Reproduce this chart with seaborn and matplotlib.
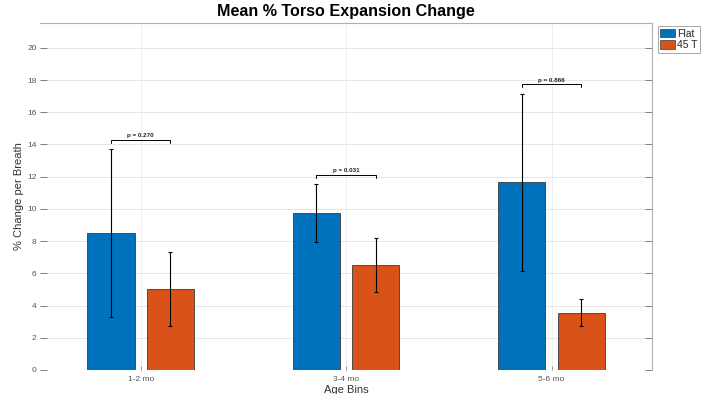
import matplotlib
matplotlib.use("Agg")
import matplotlib.pyplot as plt
import seaborn as sns
import pandas as pd
import numpy as np

age_bins = ["1-2 mo", "3-4 mo", "5-6 mo"]
conditions = ["Flat", "45 T"]
flat_mean = [8.5, 9.75, 11.65]
flat_sd = [5.2, 1.78, 5.5]
tilt_mean = [5.03, 6.52, 3.55]
tilt_sd = [2.27, 1.68, 0.85]
p_values = ["p = 0.270", "p = 0.031", "p = 0.866"]

colors = {"Flat": "#0072BD", "45 T": "#D95319"}

df = pd.DataFrame({
    "Age Bins": age_bins * 2,
    "cond": ["Flat"] * 3 + ["45 T"] * 3,
    "mean": flat_mean + tilt_mean,
    "sd": flat_sd + tilt_sd,
})

sns.set_style("white")
plt.rcParams["font.family"] = ["Liberation Sans", "DejaVu Sans"]

fig = plt.figure(figsize=(7.02, 3.94), dpi=100)
ax = fig.add_axes([0.057, 0.061, 0.872, 0.881])

sns.barplot(data=df, x="Age Bins", y="mean", hue="cond", hue_order=conditions,
            order=age_bins, palette=colors, saturation=1, width=0.58, gap=0.207,
            edgecolor="#3a3a3a", linewidth=0.6, errorbar=None, legend=False, ax=ax)

# bar centres come from the drawn patches, in hue order
patches = [p for p in ax.patches if p.get_height() > 0]
centres = {}
for i, cond in enumerate(conditions):
    for j, b in enumerate(age_bins):
        p = patches[i * len(age_bins) + j]
        centres[(cond, b)] = p.get_x() + p.get_width() / 2

for cond, means, sds in [("Flat", flat_mean, flat_sd), ("45 T", tilt_mean, tilt_sd)]:
    xs = [centres[(cond, b)] for b in age_bins]
    ax.errorbar(xs, means, yerr=sds, fmt="none", ecolor="black", elinewidth=0.8,
                capsize=1.5, capthick=0.8, zorder=5)

# significance brackets between the two bars of each bin
for j, b in enumerate(age_bins):
    x1, x2 = centres[("Flat", b)], centres[("45 T", b)]
    top = max(flat_mean[j] + flat_sd[j], tilt_mean[j] + tilt_sd[j]) + 0.6
    ax.plot([x1, x1, x2, x2], [top - 0.2, top, top, top - 0.2], color="black", lw=0.7)
    ax.text((x1 + x2) / 2, top + 0.08, p_values[j], ha="center", va="bottom",
            fontsize=4.5, fontweight="bold", color="#222222")

ax.set_xlim(-0.49, 2.49)
ax.set_ylim(0, 21.55)
ax.set_yticks(np.arange(0, 21, 2))
ax.grid(True, axis="y", color="#e6e6e6", lw=0.7)
ax.grid(True, axis="x", color="#f0f0f0", lw=0.7)
ax.set_axisbelow(True)

for side in ["left", "bottom"]:
    ax.spines[side].set_visible(False)
for side in ["top", "right"]:
    ax.spines[side].set_visible(True)
    ax.spines[side].set_color("#b0b0b0")
    ax.spines[side].set_linewidth(0.8)

ax.tick_params(axis="y", left=True, right=True, direction="in", length=5, width=0.6,
               color="#707070", labelsize=6, labelcolor="#555555", pad=2.5)
ax.tick_params(axis="x", bottom=True, direction="in", length=3, width=0.5,
               color="#707070", labelsize=6, labelcolor="#555555", pad=4)

ax.set_xlabel("Age Bins", fontsize=8, color="#333333", labelpad=2)
ax.set_ylabel("% Change per Breath", fontsize=8, color="#333333", labelpad=2)
ax.set_title("Mean % Torso Expansion Change", fontsize=11.6, fontweight="bold",
             color="black", pad=5)

handles = [plt.Rectangle((0, 0), 1, 1, facecolor=colors[c], edgecolor="#3a3a3a", lw=0.5)
           for c in conditions]
leg = ax.legend(handles, conditions, loc="upper left", bbox_to_anchor=(1.004, 1.0),
                fontsize=7.5, frameon=True, fancybox=False, handlelength=1.4,
                handleheight=0.9, handletextpad=0.2, borderpad=0.25,
                labelspacing=0.15, borderaxespad=0.3)
leg.get_frame().set_edgecolor("#909090")
leg.get_frame().set_linewidth(0.7)

fig.savefig("out.png", dpi=100)
